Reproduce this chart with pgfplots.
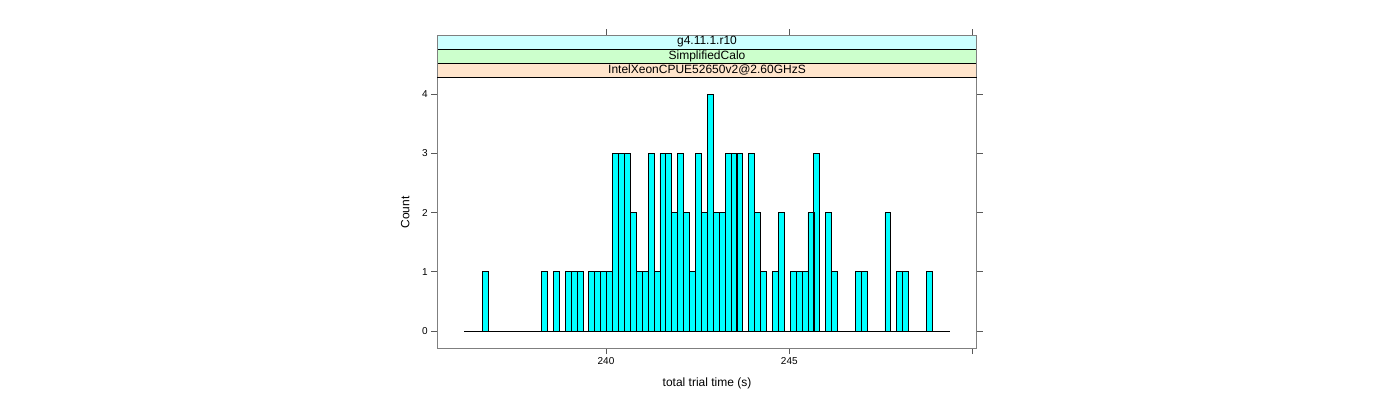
\documentclass[border=0pt]{standalone}
\usepackage{pgfplots}
\pgfplotsset{compat=1.18}
\usepackage{pgfplotstable}
\usepackage{fontspec}
\setmainfont{Liberation Sans}
\definecolor{histfill}{HTML}{00FFFF}
\definecolor{stripA}{HTML}{CCFFFF}
\definecolor{stripB}{HTML}{CCFFCC}
\definecolor{stripC}{HTML}{FFE5CC}
\definecolor{frame}{HTML}{7F7F7F}
\pgfplotstableread{
x count
236.705 1
238.320 1
238.643 1
238.966 1
239.128 1
239.289 1
239.612 1
239.774 1
239.935 1
240.097 1
240.258 3
240.420 3
240.581 3
240.743 2
240.904 1
241.066 1
241.227 3
241.389 1
241.550 3
241.712 3
241.873 2
242.035 3
242.196 2
242.358 1
242.519 3
242.681 2
242.842 4
243.004 2
243.165 2
243.327 3
243.488 3
243.650 3
243.973 3
244.134 2
244.296 1
244.619 1
244.780 2
245.103 1
245.265 1
245.426 1
245.588 2
245.749 3
246.072 2
246.234 1
246.880 1
247.041 1
247.687 2
248.010 1
248.172 1
248.818 1
}\histdata
\begin{document}
\begin{tikzpicture}[x=1pt,y=1pt]
\path[use as bounding box] (0,0) rectangle (1400,400);
\begin{axis}[
  at={(437.3pt,52pt)}, anchor=south west,
  scale only axis, width=539.4pt, height=270.7pt,
  xmin=235.40, xmax=250.11, ymin=-0.287, ymax=4.287,
  axis line style={draw=frame, line width=0.9pt},
  tick align=outside, major tick length=6pt,
  tick style={draw=black!65, line width=0.8pt},
  xtick={240,245,250}, xticklabels={240,245,{}},
  xtick pos=left,
  ytick={0,1,2,3,4}, yticklabels={0,1,2,3,4},
  ytick pos=both, yticklabel pos=left,
  ticklabel style={font=\fontsize{10}{12}\selectfont},
  xlabel={total trial time (s)},
  ylabel={Count},
  label style={font=\fontsize{12}{14}\selectfont},
  xlabel style={at={(axis description cs:0.5,0)}, anchor=center, yshift=-35pt},
  ylabel style={at={(axis description cs:0,0.5)}, anchor=center, yshift=32pt},
  clip=false,
]
\addplot[ybar, bar width=0.1615, bar shift=0pt, fill=histfill, draw=black, line width=0.7pt]
  table[x=x, y=count] {\histdata};
\addplot[black, line width=0.9pt] coordinates {(236.14,0) (249.38,0)};
\draw[black!65, line width=0.8pt] (axis cs:240,4.287) ++(0pt,42.3pt) -- ++(0pt,6pt);
\draw[black!65, line width=0.8pt] (axis cs:245,4.287) ++(0pt,42.3pt) -- ++(0pt,6pt);
\draw[black!65, line width=0.8pt] (axis cs:250,4.287) ++(0pt,42.3pt) -- ++(0pt,6pt);
\end{axis}
\begin{scope}[font=\fontsize{12}{14}\selectfont]
\draw[fill=stripC, draw=black, line width=0.8pt] (437.3,322.7) rectangle (976.7,336.8);
\draw[fill=stripB, draw=black, line width=0.8pt] (437.3,336.8) rectangle (976.7,350.9);
\draw[fill=stripA, draw=black, line width=0.8pt] (437.3,350.9) rectangle (976.7,365.0);
\draw[frame, line width=0.9pt] (437.3,322.7) -- (437.3,365.0) -- (976.7,365.0) -- (976.7,322.7);
\node[inner sep=0pt] at (707,329.75) {IntelXeonCPUE52650v2@2.60GHzS};
\node[inner sep=0pt] at (707,343.85) {SimplifiedCalo};
\node[inner sep=0pt] at (707,357.95) {g4.11.1.r10};
\end{scope}
\end{tikzpicture}
\end{document}
